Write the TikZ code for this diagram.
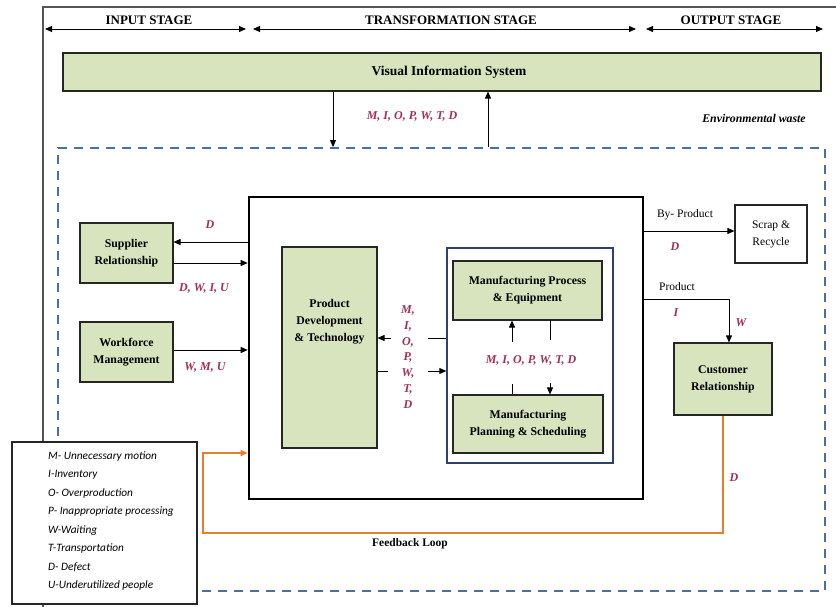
\documentclass[tikz,border=0pt]{standalone}
\usepackage{fontspec}
\setmainfont{Liberation Serif}
\newfontfamily\legendfont{Carlito}
\usetikzlibrary{arrows.meta,calc}
\definecolor{boxgreen}{RGB}{215,228,189}
\definecolor{wastered}{RGB}{165,45,80}
\definecolor{loopcol}{RGB}{232,125,42}
\definecolor{dashblue}{RGB}{74,111,165}
\definecolor{navyline}{RGB}{47,63,111}
\definecolor{framegray}{RGB}{85,85,85}
\tikzset{
  gbox/.style={draw=black!85, fill=boxgreen, line width=1.1pt, align=center,
    font=\fontsize{11.8}{17}\selectfont\bfseries, inner sep=2pt},
  wbox/.style={draw=black!85, fill=white, line width=1.1pt, align=center,
    font=\fontsize{11.5}{17}\selectfont, inner sep=2pt},
  wlabel/.style={text=wastered, font=\fontsize{12}{13}\selectfont\bfseries\itshape, inner sep=1pt},
  plainlabel/.style={font=\fontsize{11.5}{13}\selectfont, inner sep=1pt},
  boldlabel/.style={font=\fontsize{11.5}{13}\selectfont\bfseries, inner sep=1pt},
  stagelabel/.style={font=\fontsize{13}{15}\selectfont\bfseries, inner sep=1pt},
  arr/.style={-{Triangle[length=7pt,width=6pt]}, line width=0.9pt},
  stagearr/.style={{Triangle[length=7pt,width=6pt]}-{Triangle[length=7pt,width=6pt]}, line width=0.9pt},
  plainline/.style={line width=0.9pt}
}
\begin{document}
\begin{tikzpicture}[x=1pt,y=-1pt]
\useasboundingbox (0,0) rectangle (836,607);
% outer frame
\draw[framegray, line width=1.5pt] (43,607) -- (43,7) -- (836,7);
% stages
\coordinate (s1a) at (45,29); \coordinate (s1b) at (246,29);
\coordinate (s2a) at (253,29); \coordinate (s2b) at (636,29);
\coordinate (s3a) at (646,29); \coordinate (s3b) at (823,29);
\draw[stagearr] (s1a) -- (s1b);
\draw[stagearr] (s2a) -- (s2b);
\draw[stagearr] (s3a) -- (s3b);
\node[stagelabel] (lin) at (149,20) {INPUT STAGE};
\node[stagelabel] (ltr) at (451,20) {TRANSFORMATION STAGE};
\node[stagelabel] (lout) at (731,20) {OUTPUT STAGE};
% visual information system
\node[gbox, font=\fontsize{13.5}{16}\selectfont\bfseries, minimum width=758pt, minimum height=38pt] (vis) at (442,72) {\hspace*{14pt}Visual Information System};
% dashed environment box
\node[draw=dashblue, dash pattern=on 9pt off 7pt, line width=1.8pt, minimum width=767pt, minimum height=443pt, inner sep=0pt] (dbox) at (441.5,369.5) {};
\coordinate (xa) at (333,0); \coordinate (xb) at (488,0);
\draw[arr] (vis.south -| xa) -- (dbox.north -| xa);
\draw[arr] (dbox.north -| xb) -- (vis.south -| xb);
\node[wlabel] (wvis) at (412,116) {M, I, O, P, W, T, D};
\node[font=\fontsize{11.8}{13}\selectfont\bfseries\itshape] (env) at (754,118) {Environmental waste};
% main box
\node[draw=black, line width=2.6pt, minimum width=394pt, minimum height=302pt, inner sep=0pt] (main) at (446,348) {};
% left boxes
\node[gbox, minimum width=93pt, minimum height=60pt] (sup) at (126.5,253) {Supplier\\Relationship};
\node[gbox, minimum width=93pt, minimum height=60pt] (wf) at (126.5,352) {Workforce\\Management};
\coordinate (h242) at (0,242); \coordinate (h263) at (0,263); \coordinate (h350) at (0,350);
\draw[arr] (main.west |- h242) -- (sup.east |- h242);
\draw[arr] (sup.east |- h263) -- (main.west |- h263);
\draw[arr] (wf.east |- h350) -- (main.west |- h350);
\node[wlabel] (lsd) at (210,225) {D};
\node[wlabel] (lsdw) at (204,288) {D, W, I, U};
\node[wlabel] (lwf) at (205,367) {W, M, U};
% product development
\node[gbox, minimum width=95pt, minimum height=201pt] (pdt) at (329.5,347.5) {};
\node[font=\fontsize{11.8}{17}\selectfont\bfseries, align=center, inner sep=0pt] (pdtlab) at (329.5,322) {Product\\Development\\\& Technology};
% blue inner box
\node[draw=navyline, line width=1.3pt, minimum width=166pt, minimum height=215pt, inner sep=0pt] (blue) at (530,355.5) {};
\node[gbox, minimum width=149pt, minimum height=59pt] (mpe) at (527.5,290.5) {Manufacturing Process\\\& Equipment};
\node[gbox, minimum width=150pt, minimum height=58pt] (mps) at (528,424) {Manufacturing\\Planning \& Scheduling};
% pdt <-> blue
\coordinate (h338) at (0,338); \coordinate (h371) at (0,371);
\coordinate (p1) at (428,338); \coordinate (p2) at (391,338);
\coordinate (p3) at (388,371); \coordinate (p4) at (428,371);
\draw[plainline] (blue.west |- h338) -- (p1);
\draw[arr] (p2) -- (pdt.east |- h338);
\draw[plainline] (pdt.east |- h371) -- (p3);
\draw[arr] (p4) -- (blue.west |- h371);
\node[wlabel, align=center, font=\fontsize{12}{15.7}\selectfont\bfseries\itshape] (wvert) at (408,357) {M,\\I,\\O,\\P,\\W,\\T,\\D};
% mpe <-> mps
\coordinate (xl) at (512,0); \coordinate (xr) at (550,0);
\coordinate (m1) at (512,342); \coordinate (m2) at (512,384);
\coordinate (m3) at (550,340); \coordinate (m4) at (550,383);
\draw[arr] (m1) -- (mpe.south -| xl);
\draw[plainline] (mps.north -| xl) -- (m2);
\draw[plainline] (mpe.south -| xr) -- (m3);
\draw[arr] (m4) -- (mps.north -| xr);
\node[wlabel] (wmid) at (531,360) {M, I, O, P, W, T, D};
% right side
\node[wbox, minimum width=72pt, minimum height=58pt] (scrap) at (771,234) {Scrap \&\\Recycle};
\node[gbox, minimum width=98pt, minimum height=72pt] (cust) at (723,379) {Customer\\Relationship};
\coordinate (h231) at (0,231); \coordinate (h299) at (0,299);
\coordinate (x729) at (729,0); \coordinate (pc) at (729,299);
\draw[arr] (main.east |- h231) -- (scrap.west |- h231);
\draw[arr] (main.east |- h299) -- (pc) -- (cust.north -| x729);
\node[plainlabel] (lbyp) at (685,215) {By- Product};
\node[wlabel] (lbyd) at (675,247) {D};
\node[plainlabel] (lprod) at (677,287) {Product};
\node[wlabel] (lpi) at (676,313) {I};
\node[wlabel] (lpw) at (741,323) {W};
% feedback loop
\coordinate (x723) at (723,0);
\coordinate (f1) at (723,533); \coordinate (f2) at (203,533); \coordinate (f3) at (203,453);
\coordinate (h453) at (0,453);
\draw[loopcol, line width=2.2pt, -{Triangle[length=7pt,width=6pt]}] (cust.south -| x723) -- (f1) -- (f2) -- (f3) -- (main.west |- h453);
\node[wlabel] (lfd) at (734,478) {D};
\node[boldlabel] (lfb) at (410,544) {Feedback Loop};
% legend
\node[draw=black!85, fill=white, line width=1.1pt, minimum width=185pt, minimum height=162pt, inner sep=0pt] (leg) at (104.5,523) {};
\node[anchor=north west, align=left, inner sep=0pt, font=\legendfont\fontsize{11.3}{18.5}\selectfont\itshape] (legtext) at (48,451) {M- Unnecessary motion\\I-Inventory\\O- Overproduction\\P- Inappropriate processing\\W-Waiting\\T-Transportation\\D- Defect\\U-Underutilized people};
\end{tikzpicture}
\end{document}
